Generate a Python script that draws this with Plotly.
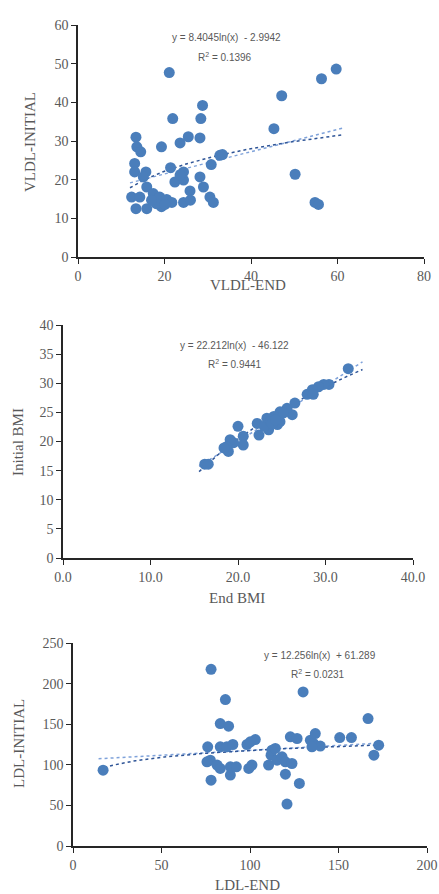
import numpy as np
import plotly.graph_objects as go

W, H = 439, 894

# ---------------- data ----------------
vldl_end = [21.1, 59.7, 56.3, 47.1, 45.3, 50.2, 54.8, 55.6, 28.8, 21.9, 28.4, 28.2, 25.5, 23.6,
            19.3, 13.4, 13.6, 14.5, 13.1, 13.1, 15.7, 21.4, 30.8, 32.8, 33.4, 24.4, 22.4, 24.4,
            28.2, 29.0, 25.9, 12.4, 14.3, 15.9, 17.4, 18.9, 20.5, 21.7, 13.4, 15.9, 19.3, 18.1,
            24.4, 26.0, 30.5, 31.3, 17.0, 15.1, 23.6, 20.1]
vldl_initial = [47.7, 48.6, 46.1, 41.7, 33.2, 21.4, 14.1, 13.6, 39.2, 35.8, 35.8, 30.8, 31.1, 29.5,
                28.5, 31.0, 28.5, 27.2, 24.2, 22.0, 22.0, 23.1, 23.9, 26.3, 26.5, 22.0, 19.4, 19.9,
                20.7, 18.1, 17.1, 15.5, 15.5, 18.1, 16.4, 15.5, 14.9, 14.1, 12.5, 12.5, 13.0, 13.8,
                14.1, 14.7, 15.5, 14.1, 14.7, 20.7, 21.2, 13.6]
vldl_eq = (8.4045, -2.9942)
vldl_r2 = 0.1396

bmi_end = [16.2, 16.6, 32.6, 30.4, 29.8, 29.2, 28.5, 27.9, 28.6, 26.5, 26.2, 25.6, 24.8, 24.1,
           23.3, 24.5, 23.5, 22.4, 22.2, 23.0, 23.7, 20.0, 20.6, 20.6, 19.5, 19.1, 18.7, 18.9,
           18.4, 24.8, 25.2, 23.9, 24.3]
bmi_initial = [16.1, 16.1, 32.5, 29.8, 29.8, 29.4, 28.9, 28.1, 28.1, 26.6, 24.6, 25.7, 25.1, 24.3,
               24.0, 22.9, 22.0, 21.1, 23.1, 22.6, 23.4, 22.6, 20.9, 19.4, 19.8, 20.3, 19.1, 18.3,
               18.9, 23.4, 24.9, 23.1, 23.7]
bmi_eq = (22.212, -46.122)
bmi_r2 = 0.9441

ldl_end = [17.0, 78.0, 86.1, 83.2, 87.9, 130.0, 166.7, 76.1, 77.6, 75.7, 81.4, 78.0, 83.2, 88.9,
           88.9, 92.3, 83.2, 86.9, 90.3, 98.3, 103.0, 100.2, 99.3, 101.1, 111.9, 112.4, 110.5,
           115.3, 118.1, 120.0, 123.7, 120.0, 120.9, 127.9, 122.8, 126.6, 134.1, 136.9, 136.0,
           139.7, 135.0, 150.7, 157.3, 172.7, 170.0, 114.3]
ldl_initial = [93.4, 217.6, 180.3, 150.8, 147.5, 189.8, 157.0, 122.1, 105.7, 103.7, 99.6, 81.1, 95.5,
               87.3, 97.5, 97.5, 122.1, 122.1, 125.0, 125.0, 131.1, 128.3, 95.5, 99.6, 111.9, 118.0,
               99.6, 105.7, 109.8, 103.7, 101.6, 88.5, 51.6, 77.0, 134.4, 132.4, 130.3, 138.5,
               126.2, 123.0, 122.1, 133.6, 133.6, 124.2, 111.9, 120.1]
ldl_eq = (12.256, 61.289)
ldl_r2 = 0.0231

# ---------------- layout geometry (pixels) ----------------
panels = [
    dict(x=vldl_end, y=vldl_initial, eq=vldl_eq, r2=vldl_r2, px=(78, 424), py=(25, 257),
         xr=[0, 80], xd=20, yr=[0, 60], yd=10, xfmt="d",
         xtitle="VLDL-END", xt_pos=(248, 285), ytitle="VLDL-INITIAL", yt_pos=(30, 142),
         eq_pos=(226, 38), r2_pos=(225, 57), ext=(0.97, 1.03)),
    dict(x=bmi_end, y=bmi_initial, eq=bmi_eq, r2=bmi_r2, px=(63, 413), py=(325, 558),
         xr=[0, 40], xd=10, yr=[0, 40], yd=5, xfmt=".1f",
         xtitle="End BMI", xt_pos=(237, 598), ytitle="Initial BMI", yt_pos=(18, 442),
         eq_pos=(234, 345), r2_pos=(235, 364), ext=(0.96, 1.05)),
    dict(x=ldl_end, y=ldl_initial, eq=ldl_eq, r2=ldl_r2, px=(73, 427), py=(643, 846),
         xr=[0, 200], xd=50, yr=[0, 250], yd=50, xfmt="d",
         xtitle="LDL-END", xt_pos=(247, 885), ytitle="LDL-INITIAL", yt_pos=(19, 744),
         eq_pos=(320, 655), r2_pos=(318, 674), ext=(0.85, 1.01)),
]

BLUE = "#4A7EBB"
GRAY = "#595959"
SERIF = "Liberation Serif, Times New Roman, serif"
SANS = "Liberation Sans, Arial, sans-serif"

fig = go.Figure()
annotations = []
layout = {}

for i, p in enumerate(panels, start=1):
    xa = "x" if i == 1 else f"x{i}"
    ya = "y" if i == 1 else f"y{i}"
    xs = np.array(p["x"])
    ys = np.array(p["y"])
    # linear trend (least squares from data), lighter dotted
    xx = np.linspace(xs.min() * p["ext"][0], xs.max() * p["ext"][1], 100)
    m, c = np.polyfit(xs, ys, 1)
    fig.add_trace(go.Scatter(x=xx, y=m * xx + c, mode="lines", xaxis=xa, yaxis=ya,
                             line=dict(color="#7FA2DA", width=1.5, dash="dot"),
                             showlegend=False, hoverinfo="skip"))
    # log trend from displayed equation, darker dotted
    a, b = p["eq"]
    fig.add_trace(go.Scatter(x=xx, y=a * np.log(xx) + b, mode="lines", xaxis=xa, yaxis=ya,
                             line=dict(color="#2F5597", width=1.5, dash="dot"),
                             showlegend=False, hoverinfo="skip"))
    fig.add_trace(go.Scatter(x=xs, y=ys, mode="markers", xaxis=xa, yaxis=ya,
                             marker=dict(color=BLUE, size=11, line=dict(width=0)),
                             showlegend=False))

    axis_common = dict(showgrid=False, zeroline=False, showline=True, linecolor="#262626",
                       linewidth=1.5, ticks="outside", ticklen=5, tickcolor="#262626",
                       tickwidth=1.2, tickfont=dict(family=SERIF, size=14, color=GRAY),
                       fixedrange=True, automargin=False)
    layout["xaxis" if i == 1 else f"xaxis{i}"] = dict(
        axis_common, domain=[p["px"][0] / W, p["px"][1] / W], range=p["xr"], dtick=p["xd"],
        tick0=0, tickformat=p["xfmt"], anchor=ya)
    layout["yaxis" if i == 1 else f"yaxis{i}"] = dict(
        axis_common, domain=[1 - p["py"][1] / H, 1 - p["py"][0] / H], range=p["yr"],
        dtick=p["yd"], tick0=0, anchor=xa)

    annotations.append(dict(text=p["xtitle"], x=p["xt_pos"][0] / W, y=1 - p["xt_pos"][1] / H,
                            xref="paper", yref="paper", showarrow=False,
                            font=dict(family=SERIF, size=15, color=GRAY),
                            xanchor="center", yanchor="middle"))
    annotations.append(dict(text=p["ytitle"], x=p["yt_pos"][0] / W, y=1 - p["yt_pos"][1] / H,
                            xref="paper", yref="paper", showarrow=False, textangle=-90,
                            font=dict(family=SERIF, size=15, color=GRAY),
                            xanchor="center", yanchor="middle"))
    sign = "+" if b >= 0 else "-"
    eq_text = f"y = {a}ln(x)  {sign} {abs(b)}"
    annotations.append(dict(text=eq_text, x=p["eq_pos"][0] / W, y=1 - p["eq_pos"][1] / H,
                            xref="paper", yref="paper", showarrow=False,
                            font=dict(family=SANS, size=10, color=GRAY),
                            xanchor="center", yanchor="middle"))
    annotations.append(dict(text=f"R<sup>2</sup> = {p['r2']}", x=p["r2_pos"][0] / W,
                            y=1 - p["r2_pos"][1] / H, xref="paper", yref="paper",
                            showarrow=False, font=dict(family=SANS, size=10, color=GRAY),
                            xanchor="center", yanchor="middle"))

fig.update_layout(width=W, height=H, margin=dict(l=0, r=0, t=0, b=0, autoexpand=False),
                  paper_bgcolor="white", plot_bgcolor="white",
                  annotations=annotations, **layout)

fig.write_html("out.html", config={"displayModeBar": False},
               post_script="document.body.style.margin='0';document.body.style.overflow='hidden';")
